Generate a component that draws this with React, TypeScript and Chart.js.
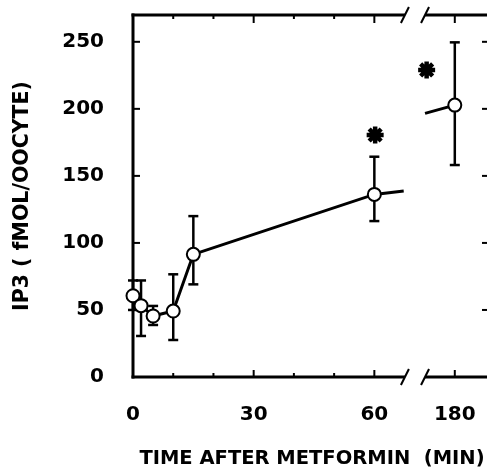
import React, { useEffect, useRef } from 'react';
import { Chart, registerables } from 'chart.js';

Chart.register(...registerables);

// ---- data (minutes after metformin, IP3 fmol/oocyte) ----
const TIMES_MIN = [0, 2, 5, 10, 15, 60, 180];
const IP3_MEAN = [60.6, 53.2, 45.5, 49.2, 91.5, 136.2, 202.8];
const IP3_UPPER = [72, 72, 53, 76.6, 120, 164.3, 249.6];
const IP3_LOWER = [50, 30.6, 38.8, 27.6, 69.1, 116.3, 158.1];
// short line stubs drawn at the axis break
const STUB_MIN = [67.3, 172.6];
const STUB_VAL = [138.7, 196.6];
// significance asterisks
const STAR_MIN = [60.2, 173];
const STAR_VAL = [180.5, 229];
// axes
const X_TICKS_MIN = [0, 30, 60, 180];
const X_MINOR_MIN = [10, 20, 40, 50];
const Y_TICKS = [0, 50, 100, 150, 200, 250];
const BREAK_MIN = [67.6, 172.6];
const BREAK_SHIFT = 100;

const X_TITLE = 'TIME AFTER METFORMIN  (MIN)';
const Y_TITLE = 'IP3 ( fMOL/OOCYTE)';

const toAxis = (t: number) => (t > BREAK_SHIFT ? t - BREAK_SHIFT : t);
const fromAxis = (v: number) => (v > 70 ? v + BREAK_SHIFT : v);

const FONT_FAMILY = '"DejaVu Sans", "Liberation Sans", Arial, sans-serif';

function buildLineData() {
  const out: { x: number; y: number | null }[] = [];
  TIMES_MIN.forEach((t, i) => {
    if (t > BREAK_SHIFT && out.length && out[out.length - 1].x < toAxis(STUB_MIN[1])) {
      out.push({ x: toAxis(STUB_MIN[0]), y: STUB_VAL[0] });
      out.push({ x: (toAxis(STUB_MIN[0]) + toAxis(STUB_MIN[1])) / 2, y: null });
      out.push({ x: toAxis(STUB_MIN[1]), y: STUB_VAL[1] });
    }
    out.push({ x: toAxis(t), y: IP3_MEAN[i] });
  });
  return out;
}

const framePlugin = {
  id: 'frameAndErrors',
  beforeDatasetsDraw(chart: any) {
    const { ctx, chartArea } = chart;
    const { left, right, top, bottom } = chartArea;
    const xs = chart.scales.x;
    const ys = chart.scales.y;
    const seg = (x1: number, y1: number, x2: number, y2: number) => {
      ctx.beginPath();
      ctx.moveTo(x1, y1);
      ctx.lineTo(x2, y2);
      ctx.stroke();
    };
    ctx.save();
    ctx.strokeStyle = '#000';
    ctx.lineCap = 'butt';
    const xa = xs.getPixelForValue(toAxis(BREAK_MIN[0]));
    const xb = xs.getPixelForValue(toAxis(BREAK_MIN[1]));

    // frame lines
    ctx.lineWidth = 3;
    seg(left, top - 1.5, left, bottom + 1.5);
    seg(right, top - 1.5, right, bottom + 1.5);
    for (const yy of [top, bottom]) {
      seg(left - 1.5, yy, xa, yy);
      seg(xb, yy, right + 1.5, yy);
    }
    // break slashes
    ctx.lineWidth = 2;
    for (const yy of [top, bottom]) {
      for (const xx of [xa, xb]) seg(xx - 4, yy + 8, xx + 4, yy - 8);
    }
    // x ticks (bottom up, top down)
    X_TICKS_MIN.forEach((t) => {
      if (t === 0) return;
      const px = xs.getPixelForValue(toAxis(t));
      seg(px, bottom, px, bottom - 7);
      seg(px, top, px, top + 8);
    });
    X_MINOR_MIN.forEach((t) => {
      const px = xs.getPixelForValue(toAxis(t));
      seg(px, bottom, px, bottom - 4);
      seg(px, top, px, top + 4);
    });
    // y ticks (left inward, right inward)
    Y_TICKS.forEach((v) => {
      if (v === 0) return;
      const py = ys.getPixelForValue(v);
      seg(left, py, left + 7, py);
      seg(right, py, right - 9, py);
    });

    // error bars
    ctx.lineWidth = 2.5;
    TIMES_MIN.forEach((t, i) => {
      const px = xs.getPixelForValue(toAxis(t));
      const pu = ys.getPixelForValue(IP3_UPPER[i]);
      const pl = ys.getPixelForValue(IP3_LOWER[i]);
      seg(px, pu, px, pl);
      seg(px - 5, pu, px + 5, pu);
      seg(px - 5, pl, px + 5, pl);
    });
    ctx.restore();
  },
};

export default function App() {
  const ref = useRef<HTMLCanvasElement | null>(null);

  useEffect(() => {
    if (!ref.current) return;
    const chart = new Chart(ref.current, {
      type: 'line',
      data: {
        datasets: [
          {
            label: 'points',
            data: TIMES_MIN.map((t, i) => ({ x: toAxis(t), y: IP3_MEAN[i] })),
            showLine: false,
            clip: false,
            pointRadius: 6.5,
            pointBorderWidth: 2,
            pointBackgroundColor: '#fff',
            pointBorderColor: '#000',
            order: 0,
          },
          {
            label: 'stars',
            data: STAR_MIN.map((t, i) => ({ x: toAxis(t), y: STAR_VAL[i] })),
            showLine: false,
            clip: false,
            pointStyle: 'star',
            pointRadius: 8.5,
            pointBorderWidth: 4.5,
            pointBorderColor: '#000',
            pointBackgroundColor: '#000',
            order: 1,
          },
          {
            label: 'line',
            data: buildLineData(),
            clip: false,
            borderColor: '#000',
            borderWidth: 3,
            pointRadius: 0,
            spanGaps: false,
            tension: 0,
            order: 2,
          },
        ],
      },
      options: {
        animation: false,
        responsive: false,
        events: [],
        layout: { autoPadding: false, padding: { left: 0, right: 9, top: 15, bottom: 0 } },
        plugins: { legend: { display: false }, tooltip: { enabled: false } },
        scales: {
          x: {
            type: 'linear',
            bounds: 'data',
            min: 0,
            max: 89,
            grid: { display: false, drawTicks: false },
            border: { display: false },
            afterBuildTicks: (s: any) => {
              s.ticks = X_TICKS_MIN.map((t) => ({ value: toAxis(t) }));
            },
            afterFit: (s: any) => {
              s.height = 92;
              s.paddingLeft = 0;
              s.paddingRight = 0;
              s.paddingTop = 0;
              s.paddingBottom = 0;
            },
            ticks: {
              autoSkip: false,
              maxRotation: 0,
              padding: 26,
              color: '#000',
              font: { family: FONT_FAMILY, size: 20, weight: 'bold' },
              callback: (v: any) => String(Math.round(fromAxis(Number(v)))),
            },
            title: {
              display: true,
              text: X_TITLE,
              color: '#000',
              padding: { top: 0, bottom: 0 },
              font: { family: FONT_FAMILY, size: 19.5, weight: 'bold', lineHeight: 1.0 },
            },
          },
          y: {
            type: 'linear',
            bounds: 'data',
            min: 0,
            max: 270,
            grid: { display: false, drawTicks: false },
            border: { display: false },
            afterBuildTicks: (s: any) => {
              s.ticks = Y_TICKS.map((v) => ({ value: v }));
            },
            afterFit: (s: any) => {
              s.width = 133;
              s.paddingLeft = 0;
              s.paddingRight = 0;
              s.paddingTop = 0;
              s.paddingBottom = 0;
            },
            ticks: {
              padding: 29,
              color: '#000',
              font: { family: FONT_FAMILY, size: 20, weight: 'bold' },
            },
            title: {
              display: true,
              text: Y_TITLE,
              color: '#000',
              padding: { top: 10.2, bottom: 0 },
              font: { family: FONT_FAMILY, size: 20.5, weight: 'bold', lineHeight: 1.2 },
            },
          },
        },
      },
      plugins: [framePlugin],
    } as any);
    return () => chart.destroy();
  }, []);

  return (
    <div
      style={{
        position: 'fixed',
        left: 0,
        top: 0,
        width: 487,
        height: 469,
        overflow: 'hidden',
        background: '#fff',
      }}
    >
      <canvas ref={ref} width={500} height={469} style={{ display: 'block' }} />
    </div>
  );
}
